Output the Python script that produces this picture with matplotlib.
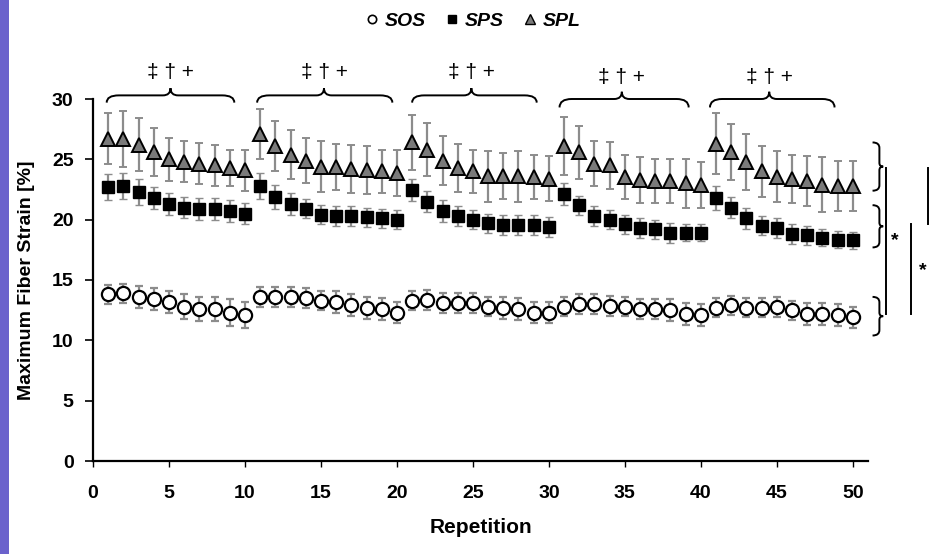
import matplotlib
matplotlib.use("Agg")
import matplotlib.pyplot as plt
import numpy as np
from matplotlib.path import Path
from matplotlib.patches import PathPatch, Rectangle
from matplotlib.lines import Line2D

# ---------------- data ----------------
repetition = list(range(1, 51))

sos_mean = [13.8, 13.9, 13.6, 13.4, 13.2, 12.8, 12.6, 12.6, 12.3, 12.1,
            13.6, 13.6, 13.6, 13.5, 13.3, 13.2, 12.9, 12.7, 12.6, 12.3,
            13.3, 13.35, 13.1, 13.1, 13.1, 12.8, 12.7, 12.6, 12.3, 12.3,
            12.8, 13.0, 13.0, 12.85, 12.8, 12.6, 12.6, 12.5, 12.2, 12.1,
            12.7, 12.9, 12.7, 12.7, 12.75, 12.5, 12.2, 12.2, 12.1, 11.9]
sos_err = [0.75, 0.8, 0.9, 0.9, 0.9, 1.0, 1.0, 1.0, 1.1, 1.1,
           0.8, 0.8, 0.8, 0.8, 0.8, 0.9, 0.9, 0.9, 0.9, 0.9,
           0.8, 0.8, 0.8, 0.8, 0.8, 0.8, 0.9, 0.9, 0.9, 0.9,
           0.8, 0.8, 0.8, 0.8, 0.8, 0.8, 0.8, 0.9, 0.9, 0.9,
           0.8, 0.8, 0.8, 0.8, 0.8, 0.8, 0.9, 0.9, 0.9, 0.9]

sps_mean = [22.7, 22.8, 22.3, 21.8, 21.3, 21.0, 20.9, 20.9, 20.7, 20.5,
            22.8, 21.9, 21.3, 20.9, 20.4, 20.3, 20.3, 20.2, 20.1, 20.0,
            22.45, 21.5, 20.7, 20.3, 20.0, 19.7, 19.55, 19.55, 19.55, 19.4,
            22.1, 21.2, 20.3, 20.0, 19.6, 19.3, 19.2, 18.9, 18.9, 18.9,
            21.8, 21.0, 20.1, 19.5, 19.3, 18.8, 18.7, 18.5, 18.35, 18.3]
sps_err = [1.1, 1.1, 1.1, 0.9, 0.9, 0.9, 0.9, 0.9, 0.9, 0.9,
           1.1, 1.0, 0.9, 0.8, 0.8, 0.8, 0.8, 0.8, 0.8, 0.8,
           0.9, 0.9, 0.9, 0.8, 0.8, 0.8, 0.8, 0.8, 0.8, 0.8,
           0.9, 0.8, 0.8, 0.8, 0.8, 0.8, 0.8, 0.8, 0.7, 0.7,
           1.0, 0.9, 0.9, 0.8, 0.8, 0.8, 0.8, 0.7, 0.7, 0.7]

spl_mean = [26.7, 26.7, 26.2, 25.6, 25.0, 24.8, 24.65, 24.5, 24.3, 24.1,
            27.1, 26.1, 25.4, 24.9, 24.4, 24.4, 24.2, 24.1, 24.0, 23.9,
            26.4, 25.8, 24.9, 24.3, 24.0, 23.6, 23.6, 23.6, 23.55, 23.4,
            26.1, 25.6, 24.65, 24.5, 23.55, 23.3, 23.2, 23.2, 23.0, 22.9,
            26.3, 25.6, 24.8, 24.0, 23.55, 23.4, 23.2, 22.9, 22.8, 22.8]
spl_err = [2.1, 2.3, 2.2, 2.0, 1.8, 1.7, 1.7, 1.7, 1.5, 1.7,
           2.1, 2.1, 2.0, 1.85, 2.1, 1.9, 2.0, 2.0, 1.8, 1.9,
           2.3, 2.2, 2.0, 2.0, 1.8, 2.1, 1.9, 2.1, 1.85, 1.85,
           2.4, 2.2, 1.9, 1.95, 1.85, 1.9, 1.8, 1.8, 2.0, 1.9,
           2.5, 2.3, 2.3, 2.1, 2.1, 2.0, 2.1, 2.3, 2.1, 2.1]

x_ticks = [0, 5, 10, 15, 20, 25, 30, 35, 40, 45, 50]
y_ticks = [0, 5, 10, 15, 20, 25, 30]
series_labels = ["SOS", "SPS", "SPL"]
block_marks = "\u2021 \u2020 +"
x_label = "Repetition"
y_label = "Maximum Fiber Strain [%]"

# ---------------- figure ----------------
fig = plt.figure(figsize=(9.34, 5.54), dpi=100)
fig.patches.append(Rectangle((0, 0), 9 / 934, 1, transform=fig.transFigure,
                             facecolor="#6b62cc", edgecolor="none", zorder=0))
ax = fig.add_axes([93 / 934, 1 - 461 / 554, (868 - 93) / 934, (461 - 99) / 554])

bold = dict(family=["Liberation Sans", "DejaVu Sans"], weight="bold")

ebar_kw = dict(ecolor="#8c8c8c", elinewidth=1.6, capsize=3.2, capthick=1.4, linestyle="none")
ax.errorbar(repetition, spl_mean, yerr=spl_err, marker="^", markersize=10.5,
            markerfacecolor="#7a7a7a", markeredgecolor="black", markeredgewidth=1.4,
            zorder=3, **ebar_kw)
ax.errorbar(repetition, sps_mean, yerr=sps_err, marker="s", markersize=8.5,
            markerfacecolor="black", markeredgecolor="black", markeredgewidth=1.0,
            zorder=3, **ebar_kw)
ax.errorbar(repetition, sos_mean, yerr=sos_err, marker="o", markersize=9.5,
            markerfacecolor="white", markeredgecolor="black", markeredgewidth=1.6,
            zorder=3, **ebar_kw)

ax.set_xlim(0, 51)
ax.set_ylim(0, 30)
ax.set_xticks(x_ticks)
ax.set_yticks(y_ticks)
for s in ["top", "right"]:
    ax.spines[s].set_visible(False)
for s in ["left", "bottom"]:
    ax.spines[s].set_linewidth(1.6)
ax.tick_params(axis="y", direction="out", length=6, width=1.2, pad=8)
ax.tick_params(axis="x", direction="out", length=4, width=1.0, pad=13)
for lab in ax.get_yticklabels():
    lab.set_fontsize(14)
    lab.set_fontfamily(bold["family"])
    lab.set_fontweight("bold")
for lab in ax.get_xticklabels():
    lab.set_fontsize(14)
    lab.set_fontfamily(bold["family"])
    lab.set_fontweight("bold")
ax.set_xlabel(x_label, fontsize=15, labelpad=12, **bold)
ax.set_ylabel(y_label, fontsize=14, labelpad=12, **bold)


def hbrace(ax, x0, x1, xm, ye, yl, yt, q=0.8, qm=0.5, lw=1.4):
    verts = [(x0, ye), (x0, yl), (x0 + q, yl),
             (xm - qm, yl), (xm, yl), (xm, yt),
             (xm, yl), (xm + qm, yl),
             (x1 - q, yl), (x1, yl), (x1, ye)]
    codes = [Path.MOVETO, Path.CURVE3, Path.CURVE3,
             Path.LINETO, Path.CURVE3, Path.CURVE3,
             Path.CURVE3, Path.CURVE3,
             Path.LINETO, Path.CURVE3, Path.CURVE3]
    ax.add_patch(PathPatch(Path(verts, codes), fill=False, lw=lw,
                           edgecolor="black", clip_on=False))


def vbrace(ax, y0, y1, xe, xl, xt, q=0.45, qm=0.3, lw=1.4):
    ym = (y0 + y1) / 2
    verts = [(xe, y1), (xl, y1), (xl, y1 - q),
             (xl, ym + qm), (xl, ym), (xt, ym),
             (xl, ym), (xl, ym - qm),
             (xl, y0 + q), (xl, y0), (xe, y0)]
    codes = [Path.MOVETO, Path.CURVE3, Path.CURVE3,
             Path.LINETO, Path.CURVE3, Path.CURVE3,
             Path.CURVE3, Path.CURVE3,
             Path.LINETO, Path.CURVE3, Path.CURVE3]
    ax.add_patch(PathPatch(Path(verts, codes), fill=False, lw=lw,
                           edgecolor="black", clip_on=False))


# top braces per block of ten repetitions
brace_spans = [(0.9, 9.3, 5.1, 29.7, 30.3, 30.9, 32.2),
               (10.8, 19.7, 15.2, 29.7, 30.3, 30.9, 32.2),
               (21.0, 29.2, 24.9, 29.7, 30.3, 30.9, 32.2),
               (30.7, 39.2, 34.8, 29.3, 30.0, 30.6, 31.75),
               (40.6, 48.8, 44.5, 29.3, 30.0, 30.6, 31.75)]
for x0, x1, xm, ye, yl, yt, ys in brace_spans:
    hbrace(ax, x0, x1, xm, ye, yl, yt)
    ax.text(xm, ys, block_marks, ha="center", va="center", fontsize=15,
            family=["Liberation Sans", "DejaVu Sans"], clip_on=False)

# right-side braces and significance bars
vbrace(ax, 22.4, 26.4, 51.3, 51.75, 52.0)
vbrace(ax, 17.7, 21.2, 51.3, 51.75, 52.0)
vbrace(ax, 10.4, 13.6, 51.3, 51.75, 52.0)
ax.plot([52.2, 52.2], [12.2, 24.3], color="black", lw=1.4, clip_on=False)
ax.plot([53.85, 53.85], [12.2, 19.6], color="black", lw=1.4, clip_on=False)
ax.plot([54.95, 54.95], [19.6, 24.3], color="black", lw=1.4, clip_on=False)
ax.text(52.75, 18.3, "*", fontsize=14, ha="center", va="center", clip_on=False, **bold)
ax.text(54.6, 15.8, "*", fontsize=14, ha="center", va="center", clip_on=False, **bold)

# legend
handles = [Line2D([], [], marker="o", linestyle="none", markersize=6,
                  markerfacecolor="white", markeredgecolor="black", markeredgewidth=1.2),
           Line2D([], [], marker="s", linestyle="none", markersize=6,
                  markerfacecolor="black", markeredgecolor="black"),
           Line2D([], [], marker="^", linestyle="none", markersize=7,
                  markerfacecolor="#7a7a7a", markeredgecolor="black", markeredgewidth=1.0)]
fig.legend(handles, series_labels, loc="center", bbox_to_anchor=(473 / 934, 1 - 21 / 554),
           ncol=3, frameon=False, handlelength=0.7, handletextpad=0.3,
           columnspacing=1.0,
           prop=dict(family=["Liberation Sans", "DejaVu Sans"],
                     weight="bold", style="italic", size=14))

fig.savefig("out.png", dpi=100)
